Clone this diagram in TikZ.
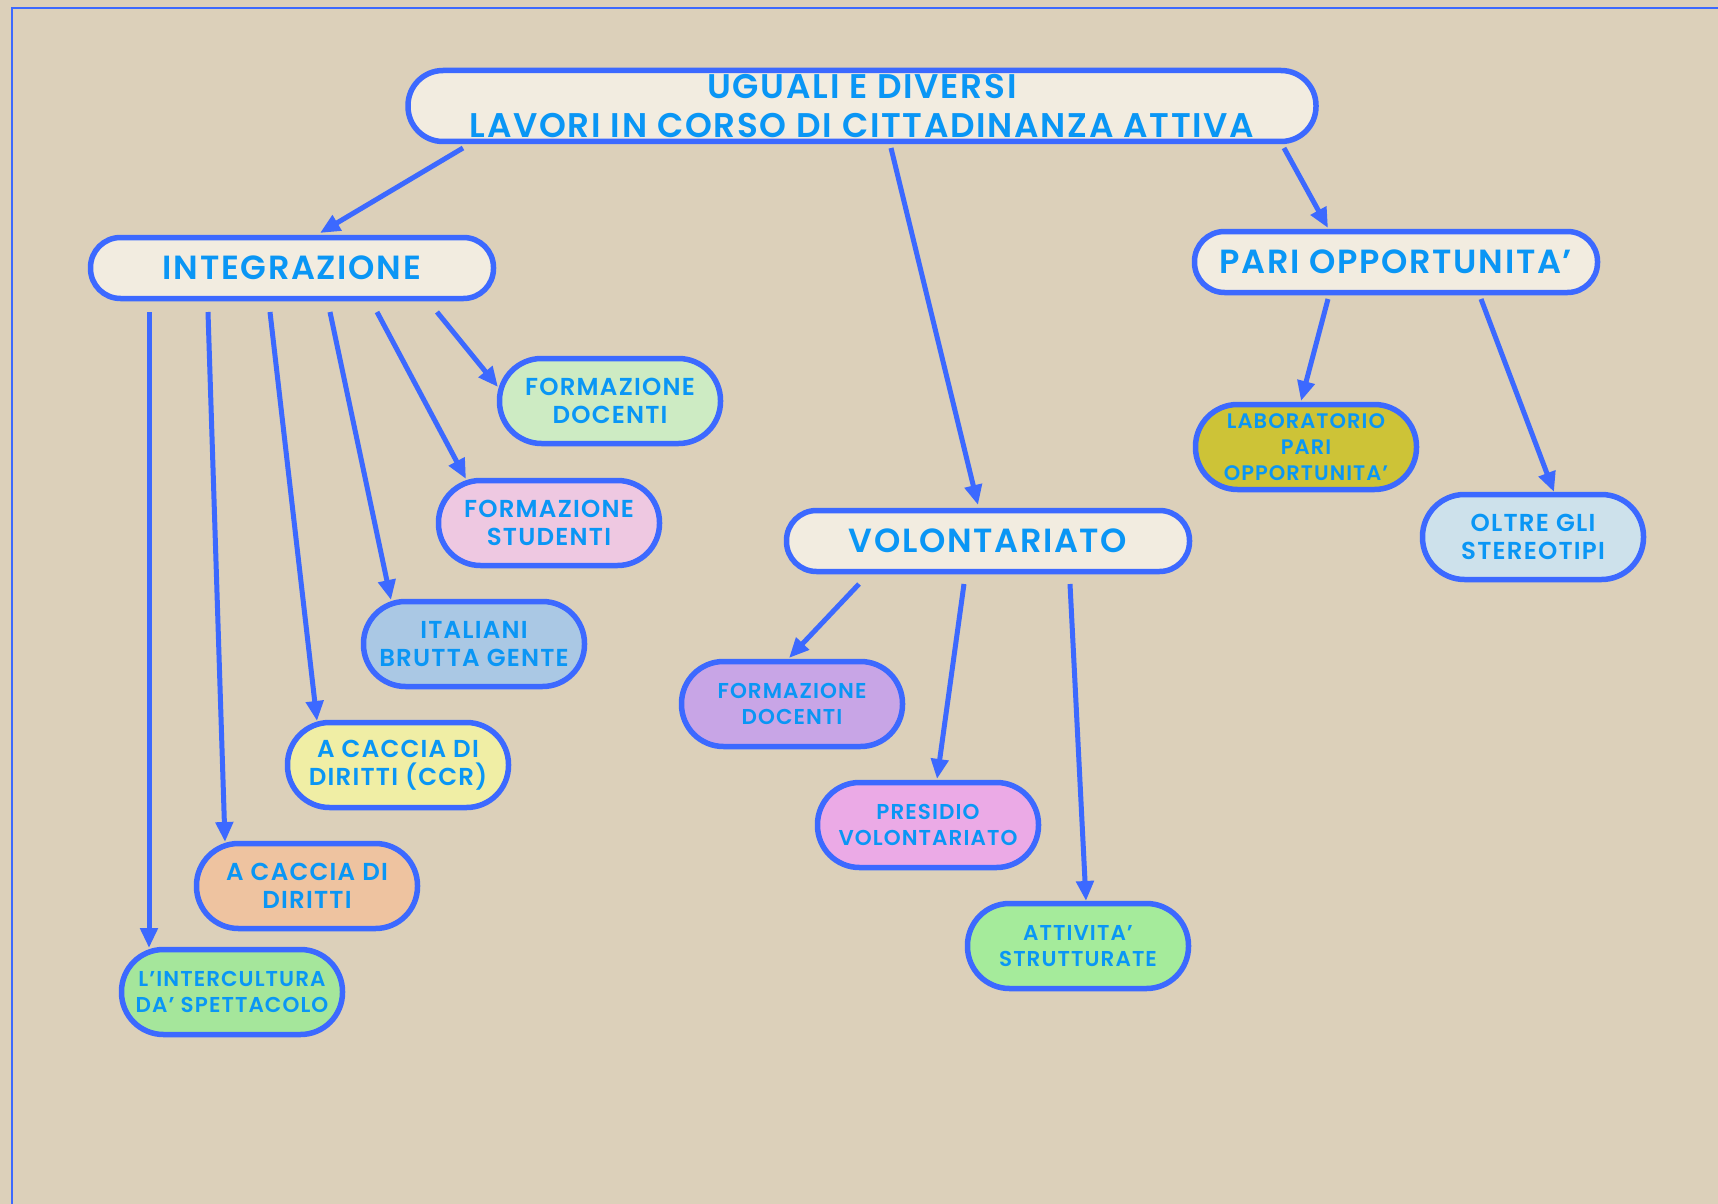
\documentclass[tikz,border=0pt]{standalone}
\usepackage{fontspec}
\setmainfont{Poppins}[BoldFont={Poppins SemiBold}, LetterSpace=5]
\usetikzlibrary{arrows.meta}
\definecolor{bgc}{RGB}{220,208,186}
\definecolor{edgec}{RGB}{60,105,255}
\definecolor{txtc}{RGB}{10,150,245}
\definecolor{mainf}{RGB}{242,236,224}
\definecolor{cfdA}{RGB}{205,235,195}
\definecolor{cfs}{RGB}{238,200,225}
\definecolor{cital}{RGB}{170,200,228}
\definecolor{cccr}{RGB}{240,238,165}
\definecolor{cccd}{RGB}{238,195,160}
\definecolor{cinter}{RGB}{165,230,155}
\definecolor{cfdB}{RGB}{200,165,230}
\definecolor{cpres}{RGB}{235,170,230}
\definecolor{catt}{RGB}{165,235,155}
\definecolor{clab}{RGB}{205,195,55}
\definecolor{coltre}{RGB}{205,225,235}
\tikzset{
  pill/.style={draw=edgec, line width=5.5pt, align=center, text=txtc, font=\bfseries, inner sep=0pt},
  mainbox/.style={pill, fill=mainf, minimum width=403pt, minimum height=61pt, rounded corners=30pt, font=\bfseries\fontsize{33.5}{36}\selectfont},
  smallbox/.style={pill, minimum width=221pt, minimum height=85pt, rounded corners=42pt, font=\bfseries\fontsize{24.5}{28.5}\selectfont},
  tinybox/.style={smallbox, font=\bfseries\fontsize{21.5}{25.5}\selectfont},
  conn/.style={draw=edgec, line width=5pt, -{Triangle[length=20pt,width=17pt]}}
}
\begin{document}
\begin{tikzpicture}[x=1pt,y=1pt]
\useasboundingbox (0,0) rectangle (1718,-1204);
\fill[bgc] (0,0) rectangle (1718,-1204);
\draw[edgec, line width=2pt] (12,-1204) -- (12,-8) -- (1718,-8);

\node[mainbox, minimum width=908pt, minimum height=71pt, rounded corners=35pt, font=\bfseries\fontsize{34.2}{39.5}\selectfont] (title) at (862,-106) {UGUALI E DIVERSI\\LAVORI IN CORSO DI CITTADINANZA ATTIVA};
\node[mainbox] (integ) at (292,-268) {INTEGRAZIONE};
\node[mainbox] (pari) at (1396,-262) {PARI OPPORTUNITA'};
\node[mainbox] (volont) at (988,-541) {VOLONTARIATO};

\node[smallbox, fill=cfdA] (fdA) at (610,-401) {FORMAZIONE\\DOCENTI};
\node[smallbox, fill=cfs] (fs) at (549,-523) {FORMAZIONE\\STUDENTI};
\node[smallbox, fill=cital] (ital) at (474,-644) {ITALIANI\\BRUTTA GENTE};
\node[smallbox, fill=cccr] (ccr) at (398,-765) {A CACCIA DI\\DIRITTI (CCR)};
\node[smallbox, fill=cccd] (ccd) at (307,-886) {A CACCIA DI\\DIRITTI};
\node[tinybox, fill=cinter] (inter) at (232,-992) {L'INTERCULTURA\\DA' SPETTACOLO};

\node[tinybox, fill=cfdB] (fdB) at (792,-704) {FORMAZIONE\\DOCENTI};
\node[tinybox, fill=cpres] (pres) at (928,-825) {PRESIDIO\\VOLONTARIATO};
\node[tinybox, fill=catt] (att) at (1078,-946) {ATTIVITA'\\STRUTTURATE};

\node[tinybox, fill=clab, font=\bfseries\fontsize{21}{26}\selectfont] (lab) at (1306,-447) {LABORATORIO\\PARI\\OPPORTUNITA'};
\node[smallbox, fill=coltre] (oltre) at (1533,-537) {OLTRE GLI\\STEREOTIPI};

% title arrows
\draw[conn] ([shift={(-399pt,-42pt)}]title.center) -- ([shift={(28pt,35pt)}]integ.center);
\draw[conn] ([shift={(29pt,-42pt)}]title.center) -- ([shift={(-10pt,36pt)}]volont.center);
\draw[conn] ([shift={(422pt,-42pt)}]title.center) -- ([shift={(-68pt,34pt)}]pari.center);

% integrazione arrows
\draw[conn] ([shift={(-143pt,-44pt)}]integ.center) -- ([shift={(-83pt,44pt)}]inter.center);
\draw[conn] ([shift={(-84pt,-44pt)}]integ.center) -- ([shift={(-82pt,44pt)}]ccd.center);
\draw[conn] ([shift={(-22pt,-44pt)}]integ.center) -- ([shift={(-81pt,44pt)}]ccr.center);
\draw[conn] ([shift={(38pt,-44pt)}]integ.center) -- ([shift={(-83pt,44pt)}]ital.center);
\draw[conn] ([shift={(85pt,-44pt)}]integ.center) -- ([shift={(-83pt,44pt)}]fs.center);
\draw[conn] ([shift={(145pt,-44pt)}]integ.center) -- ([shift={(-112pt,14pt)}]fdA.center);

% volontariato arrows
\draw[conn] ([shift={(-129pt,-43pt)}]volont.center) -- ([shift={(-3pt,46pt)}]fdB.center);
\draw[conn] ([shift={(-24pt,-43pt)}]volont.center) -- ([shift={(9pt,46pt)}]pres.center);
\draw[conn] ([shift={(82pt,-43pt)}]volont.center) -- ([shift={(8pt,45pt)}]att.center);

% pari arrows
\draw[conn] ([shift={(-68pt,-37pt)}]pari.center) -- ([shift={(-5pt,46pt)}]lab.center);
\draw[conn] ([shift={(85pt,-37pt)}]pari.center) -- ([shift={(21pt,45pt)}]oltre.center);
\end{tikzpicture}
\end{document}
